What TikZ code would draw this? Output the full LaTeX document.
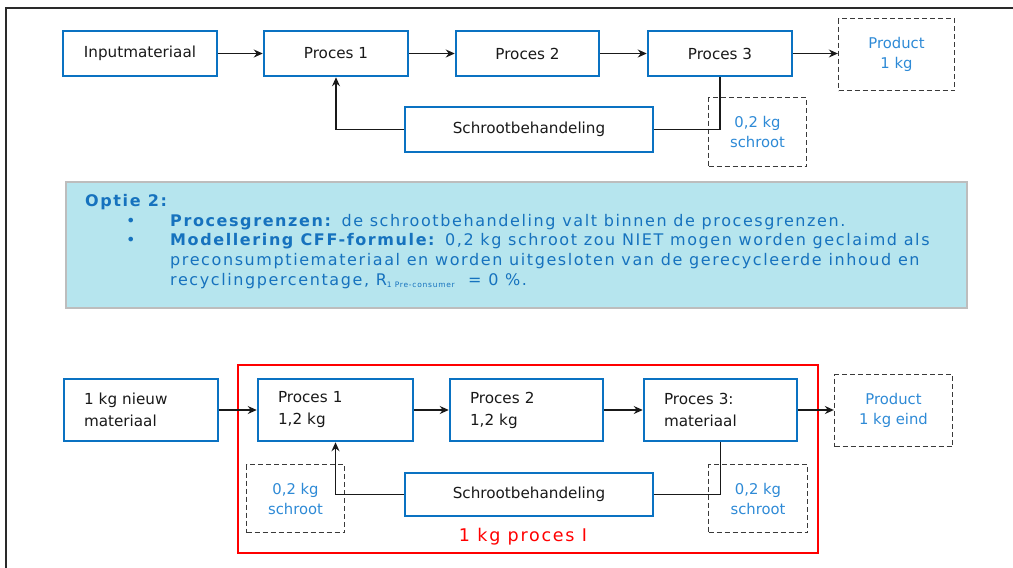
\documentclass[tikz,border=0pt]{standalone}
\usepackage{fontspec}
\setmainfont{DejaVu Sans}
\newfontfamily\infofont[LetterSpace=10]{DejaVu Sans}
\usetikzlibrary{arrows.meta}
\definecolor{boxblue}{HTML}{0A72C2}
\definecolor{lblue}{HTML}{2E8AD6}
\definecolor{infofill}{HTML}{B6E5EE}
\definecolor{infoborder}{HTML}{BDBDBD}
\definecolor{infotext}{HTML}{1672BE}
\definecolor{dashgray}{HTML}{3A3A3A}
\definecolor{framegray}{HTML}{2A2A2A}
\definecolor{redline}{HTML}{FF0000}
\begin{document}
\begin{tikzpicture}[x=1pt,y=-1pt,
  procbox/.style={draw=boxblue, line width=2.5pt, inner sep=0pt, align=center,
    font=\fontsize{15.2}{22}\selectfont, text=black!90},
  leftbox/.style={procbox, align=left, inner xsep=20pt},
  dashbox/.style={draw=dashgray, line width=1.3pt, dash pattern=on 5pt off 3pt,
    inner sep=0pt, align=center, font=\fontsize{14.8}{20}\selectfont, text=lblue},
  arr/.style={draw=black!90, line width=1.3pt, -{Stealth[length=9pt,width=8pt,inset=3pt]}},
  conn/.style={draw=black!90, line width=1.3pt},
  infoline/.style={anchor=base west, inner sep=0pt, text=infotext,
    font=\infofont\fontsize{16}{19}\selectfont},
]
\useasboundingbox (0,0) rectangle (1013,568);

% frame
\coordinate (fbl) at (6,568);
\coordinate (ftl) at (6,8);
\coordinate (ftr) at (1013,8);
\draw[framegray, line width=1.6pt] (fbl) -- (ftl) -- (ftr);

% ---------- top row ----------
\node[procbox, minimum width=154pt, minimum height=45pt] (in1) at (140,53.5) {Inputmateriaal};
\node[procbox, minimum width=144pt, minimum height=45pt] (p1a) at (336,53.5) {Proces 1};
\node[procbox, minimum width=143pt, minimum height=45pt] (p2a) at (527.5,53.5) {Proces 2};
\node[procbox, minimum width=144pt, minimum height=45pt] (p3a) at (720,53.5) {Proces 3};
\node[dashbox, minimum width=116pt, minimum height=72pt] (proda) at (896.5,54.5) {Product\\1 kg};
\node[procbox, minimum width=248pt, minimum height=45pt] (scha) at (529,129.5) {Schrootbehandeling};
\node[dashbox, minimum width=98pt, minimum height=69pt] (scra) at (757.5,132) {0,2 kg\\schroot};

\draw[arr] (in1) -- (p1a);
\draw[arr] (p1a) -- (p2a);
\draw[arr] (p2a) -- (p3a);
\draw[arr] (p3a.east) -- (p3a.east -| proda.west);
\draw[conn] (p3a.south) |- (scha.east);
\draw[arr] (scha.west) -| (p1a.south);

% ---------- info box ----------
\node[draw=infoborder, fill=infofill, line width=2pt, minimum width=901pt, minimum height=126pt, inner sep=0pt] (info) at (516.5,245) {};
\node[infoline] (optie) at (85,206) {\textbf{Optie 2:}};
\node[infoline] (b1) at (126,226) {•};
\node[infoline] (l1) at (170,226) {\textbf{Procesgrenzen:} de schrootbehandeling valt binnen de procesgrenzen.};
\node[infoline] (b2) at (126,245) {•};
\node[infoline] (l2) at (170,245) {\textbf{Modellering CFF-formule:} 0,2 kg schroot zou NIET mogen worden geclaimd als};
\node[infoline] (l3) at (170,265) {preconsumptiemateriaal en worden uitgesloten van de gerecycleerde inhoud en};
\node[infoline] (l4) at (170,285) {recyclingpercentage, R\raisebox{-2pt}{\fontsize{7.5}{8}\selectfont 1 Pre-consumer}\ \ = 0 \%.};

% ---------- bottom row ----------
\node[draw=redline, line width=2.5pt, minimum width=580pt, minimum height=188pt, inner sep=0pt] (red) at (528,459) {};
\node[text=redline, font=\infofont\fontsize{17.5}{20}\selectfont, inner sep=0pt] (redlabel) at (523,537) {1 kg proces I};

\node[leftbox, minimum width=154pt, minimum height=62pt, text width=114pt] (in2) at (141,410) {1 kg nieuw\\materiaal};
\node[leftbox, minimum width=155pt, minimum height=62pt, text width=115pt] (p1b) at (335.5,410) {Proces 1\\1,2 kg};
\node[leftbox, minimum width=153pt, minimum height=62pt, text width=113pt] (p2b) at (526.5,410) {Proces 2\\1,2 kg};
\node[leftbox, minimum width=153pt, minimum height=62pt, text width=113pt] (p3b) at (720.5,410) {Proces 3:\\materiaal};
\node[dashbox, minimum width=118pt, minimum height=72pt] (prodb) at (893.5,410.5) {Product\\1 kg eind};
\node[procbox, minimum width=248pt, minimum height=43pt] (schb) at (529,494.5) {Schrootbehandeling};
\node[dashbox, minimum width=98pt, minimum height=68pt] (scrb1) at (295.5,498.5) {0,2 kg\\schroot};
\node[dashbox, minimum width=99pt, minimum height=68pt] (scrb2) at (758,498.5) {0,2 kg\\schroot};

\draw[arr] (in2) -- (p1b);
\draw[arr] (p1b) -- (p2b);
\draw[arr] (p2b) -- (p3b);
\draw[arr] (p3b.east) -- (p3b.east -| prodb.west);
\draw[conn] (p3b.south) |- (schb.east);
\draw[arr] (schb.west) -| (p1b.south);
\end{tikzpicture}
\end{document}
